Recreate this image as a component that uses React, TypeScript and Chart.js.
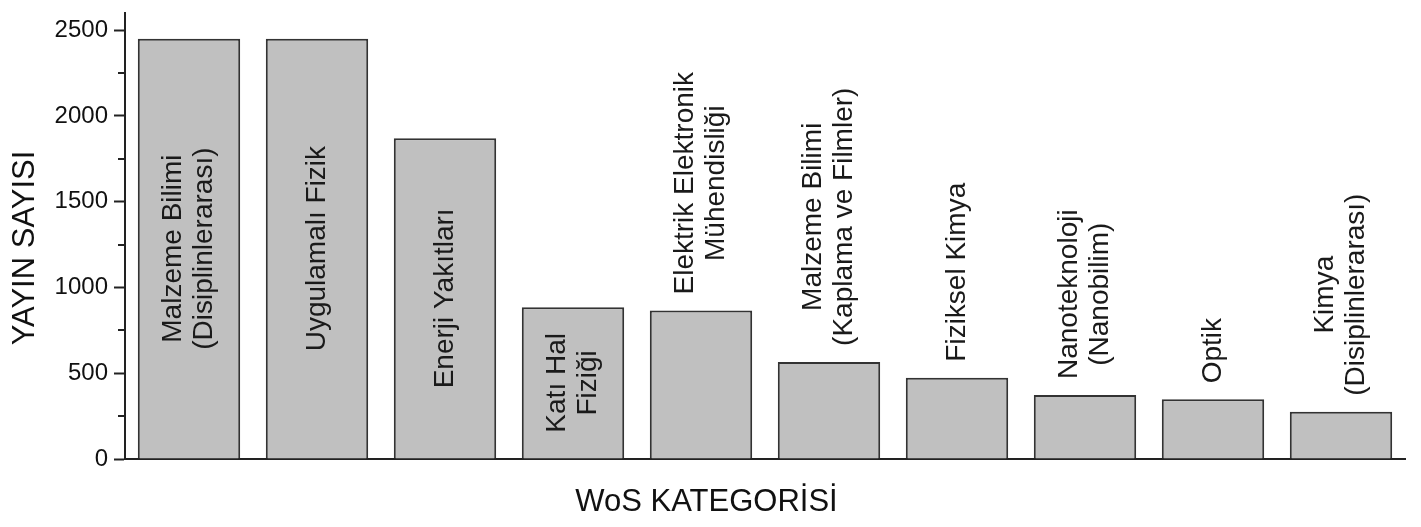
import React, { useEffect, useRef } from "react";
import { Chart, registerables } from "chart.js";

Chart.register(...registerables);

const categoryLines: string[][] = [
  ["Malzeme Bilimi", "(Disiplinlerarası)"],
  ["Uygulamalı Fizik"],
  ["Enerji Yakıtları"],
  ["Katı Hal", "Fiziği"],
  ["Elektrik Elektronik", "Mühendisliği"],
  ["Malzeme Bilimi", "(Kaplama ve Filmler)"],
  ["Fiziksel Kimya"],
  ["Nanoteknoloji", "(Nanobilim)"],
  ["Optik"],
  ["Kimya", "(Disiplinlerarası)"],
];
const categories = categoryLines.map((l) => l.join(" "));
const values = [2450, 2450, 1870, 885, 866, 566, 474, 373, 348, 275];
const labelPlacement = ["inside", "inside", "inside", "inside", "above", "above", "above", "above", "above", "above"];
const yMax = 2600;
const yTickValues = [0, 500, 1000, 1500, 2000, 2500];
const yMinorTickValues = [250, 750, 1250, 1750, 2250];
const xTitle = "WoS KATEGORİSİ";
const yTitle = "YAYIN SAYISI";

const FONT = "'Liberation Sans', Arial, sans-serif";

const overlayPlugin = {
  id: "overlay",
  afterDraw(chart: any) {
    const ctx = chart.ctx;
    const area = chart.chartArea;
    const yScale = chart.scales.y;
    ctx.save();
    // minor ticks
    ctx.strokeStyle = "#222";
    ctx.lineWidth = 2;
    for (const v of yMinorTickValues) {
      const py = Math.round(yScale.getPixelForValue(v));
      ctx.beginPath();
      ctx.moveTo(area.left - 7, py);
      ctx.lineTo(area.left, py);
      ctx.stroke();
    }
    // bar labels
    const meta = chart.getDatasetMeta(0);
    ctx.fillStyle = "#1a1a1a";
    ctx.font = `28px ${FONT}`;
    const lineH = 31;
    meta.data.forEach((bar: any, i: number) => {
      const lines = categoryLines[i];
      const widths = lines.map((s) => ctx.measureText(s).width);
      const maxW = Math.max(...widths);
      const n = lines.length;
      let centerAlong: number;
      if (labelPlacement[i] === "inside") {
        centerAlong = (bar.y + bar.base) / 2;
      } else {
        centerAlong = bar.y - 16 - maxW / 2;
      }
      ctx.save();
      ctx.translate(bar.x, centerAlong);
      ctx.rotate(-Math.PI / 2);
      ctx.textAlign = "center";
      ctx.textBaseline = "middle";
      lines.forEach((s, k) => {
        const off = (k - (n - 1) / 2) * lineH;
        ctx.fillText(s, 0, off);
      });
      ctx.restore();
    });
    // axis titles
    ctx.font = `31px ${FONT}`;
    ctx.textAlign = "center";
    ctx.textBaseline = "middle";
    ctx.fillStyle = "#111";
    ctx.fillText(xTitle, chart.width / 2 - 4, 502);
    ctx.save();
    ctx.translate(25, 248);
    ctx.rotate(-Math.PI / 2);
    ctx.fillText(yTitle, 0, 0);
    ctx.restore();
    ctx.restore();
  },
};

export default function App() {
  const ref = useRef<HTMLCanvasElement | null>(null);
  useEffect(() => {
    document.body.style.margin = "0";
    const canvas = ref.current!;
    const chart = new Chart(canvas, {
      type: "bar",
      data: {
        labels: categories,
        datasets: [
          {
            data: values,
            backgroundColor: "#c0c0c0",
            borderColor: "#333333",
            borderWidth: 2,
            categoryPercentage: 0.8,
            barPercentage: 1,
          },
        ],
      },
      options: {
        animation: false,
        responsive: false,
        devicePixelRatio: 1,
        layout: { padding: { top: 13, right: 16, left: 0, bottom: 0 } },
        plugins: { legend: { display: false }, tooltip: { enabled: false }, title: { display: false } },
        scales: {
          x: {
            grid: { display: false },
            border: { display: true, color: "#222", width: 2 },
            ticks: { display: false },
            afterFit: (scale: any) => {
              scale.height = 68;
            },
          },
          y: {
            min: 0,
            max: yMax,
            ticks: {
              autoSkip: false,
              padding: 6,
              color: "#111",
              font: { family: FONT, size: 24 },
              callback: (v: any) => String(v),
            },
            afterBuildTicks: (scale: any) => {
              scale.ticks = yTickValues.map((v) => ({ value: v }));
            },
            grid: {
              drawOnChartArea: false,
              drawTicks: true,
              tickLength: 11,
              tickWidth: 2,
              tickColor: "#222",
            },
            border: { display: true, color: "#222", width: 2 },
            afterFit: (scale: any) => {
              scale.width = 125;
              scale.paddingTop = 0;
              scale.paddingBottom = 0;
            },
          },
        },
      },
      plugins: [overlayPlugin],
    });
    return () => chart.destroy();
  }, []);
  return (
    <div style={{ width: 1421, height: 527, background: "#fff" }}>
      <canvas ref={ref} width={1421} height={527} />
    </div>
  );
}
